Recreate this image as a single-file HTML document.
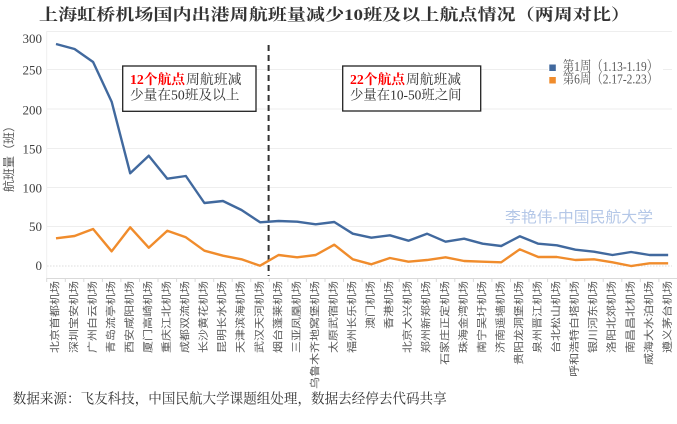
<!DOCTYPE html>
<html><head><meta charset="utf-8"><style>
html,body{margin:0;padding:0;background:#fff;}
svg{display:block;}
.xl{font-family:"Liberation Sans","Noto Sans CJK SC",sans-serif;font-size:12px;fill:#595959;}
.yt{font-family:"Liberation Serif","Noto Serif CJK SC",serif;font-size:13px;fill:#404040;}
</style></head><body>
<svg width="677" height="424" viewBox="0 0 677 424" xmlns="http://www.w3.org/2000/svg">
<rect width="677" height="424" fill="#fff"/>
<text x="39" y="20" textLength="591" lengthAdjust="spacingAndGlyphs" style="font-family:'Liberation Serif','Noto Serif CJK SC',serif;font-weight:bold;font-size:16px;fill:#333">上海虹桥机场国内出港周航班量减少10班及以上航点情况（两周对比）</text>
<g stroke="#eeeeee" stroke-width="1">
<line x1="47" y1="31.5" x2="672" y2="31.5"/>
<line x1="47" y1="69.5" x2="672" y2="69.5"/>
<line x1="47" y1="109" x2="672" y2="109"/>
<line x1="47" y1="148.5" x2="672" y2="148.5"/>
<line x1="47" y1="187.5" x2="672" y2="187.5"/>
<line x1="47" y1="226.5" x2="672" y2="226.5"/>
<line x1="47" y1="266" x2="672" y2="266" stroke="#dddddd" stroke-dasharray="1.5,1.5"/>
<line x1="46.7" y1="31" x2="46.7" y2="278"/>
</g>
<g stroke="#d9d9d9" stroke-width="1">
<line x1="46.7" y1="278.5" x2="677" y2="278.5"/>
<path d="M46.7 278v4M65.3 278v4M83.8 278v4M102.4 278v4M120.9 278v4M139.5 278v4M158 278v4M176.6 278v4M195.1 278v4M213.7 278v4M232.2 278v4M250.8 278v4M269.3 278v4M287.9 278v4M306.4 278v4M325 278v4M343.5 278v4M362.1 278v4M380.6 278v4M399.2 278v4M417.7 278v4M436.3 278v4M454.8 278v4M473.4 278v4M491.9 278v4M510.5 278v4M529 278v4M547.6 278v4M566.1 278v4M584.7 278v4M603.2 278v4M621.8 278v4M640.3 278v4M658.9 278v4"/>
</g>
<g class="yt" text-anchor="end" dominant-baseline="central">
<text x="42" y="38.3">300</text>
<text x="42" y="70">250</text>
<text x="42" y="110">200</text>
<text x="42" y="149">150</text>
<text x="42" y="188">100</text>
<text x="42" y="226.7">50</text>
<text x="42" y="265.5">0</text>
</g>
<text transform="translate(9,156) rotate(-90)" text-anchor="middle" dominant-baseline="central" style="font-family:'Liberation Sans','Noto Sans CJK SC',sans-serif;font-size:12px;fill:#595959">航班量（班）</text>
<text x="505" y="217.3" textLength="148" lengthAdjust="spacingAndGlyphs" dominant-baseline="central" style="font-family:'Liberation Sans','Noto Sans CJK SC',sans-serif;font-size:15px;fill:#b4c7e7">李艳伟-中国民航大学</text>
<line x1="268.6" y1="45" x2="268.6" y2="276" stroke="#333" stroke-width="2" stroke-dasharray="6,4"/>
<polyline fill="none" stroke="#41699e" stroke-width="2.4" stroke-linejoin="round" points="56,44 74.55,49 93.1,62 111.65,101.7 130.2,173.3 148.75,155.7 167.3,178.7 185.85,176 204.4,203 222.95,201 241.5,210 260.05,222.3 278.6,221 297.15,221.7 315.7,224.3 334.25,222 352.8,233.7 371.35,237.7 389.9,235.3 408.45,240.7 427,233.7 445.55,241.7 464.1,238.7 482.65,243.7 501.2,246 519.75,236.3 538.3,243.7 556.85,245.3 575.4,249.7 593.95,251.7 612.5,255 631.05,252 649.6,255 668.15,255"/>
<polyline fill="none" stroke="#f08c2c" stroke-width="2.4" stroke-linejoin="round" points="56,238.3 74.55,236 93.1,229 111.65,251.3 130.2,227.3 148.75,247.7 167.3,230.7 185.85,237.3 204.4,250.7 222.95,255.7 241.5,259.3 260.05,265.7 278.6,255 297.15,257.3 315.7,255 334.25,244.7 352.8,259.3 371.35,264.3 389.9,258 408.45,261.7 427,260 445.55,257.3 464.1,261 482.65,261.7 501.2,262.3 519.75,249.3 538.3,257 556.85,257 575.4,260 593.95,259.3 612.5,262.3 631.05,266 649.6,263.3 668.15,263.3"/>
<rect x="122.7" y="66" width="133.3" height="45.3" fill="#fff" stroke="#222" stroke-width="1.3"/>
<g style="font-family:'Liberation Serif','Noto Serif CJK SC',serif;font-size:13.5px" dominant-baseline="central">
<text x="130" y="79.3" textLength="55" lengthAdjust="spacingAndGlyphs" fill="#ff0000" font-weight="bold">12个航点</text>
<text x="186" y="79.3" textLength="55.5" lengthAdjust="spacingAndGlyphs" fill="#333">周航班减</text>
<text x="130" y="95" textLength="109.5" lengthAdjust="spacingAndGlyphs" fill="#333">少量在50班及以上</text>
</g>
<rect x="342.7" y="66" width="138" height="45" fill="#fff" stroke="#222" stroke-width="1.3"/>
<g style="font-family:'Liberation Serif','Noto Serif CJK SC',serif;font-size:13.5px" dominant-baseline="central">
<text x="350" y="79.3" textLength="55" lengthAdjust="spacingAndGlyphs" fill="#ff0000" font-weight="bold">22个航点</text>
<text x="406" y="79.3" textLength="55" lengthAdjust="spacingAndGlyphs" fill="#333">周航班减</text>
<text x="350" y="95" textLength="111.5" lengthAdjust="spacingAndGlyphs" fill="#333">少量在10-50班之间</text>
</g>
<rect x="548" y="57" width="115" height="30" fill="#fff"/>
<rect x="549.3" y="64.5" width="6.5" height="6.5" fill="#41699e"/>
<rect x="549.3" y="77" width="6.5" height="6.5" fill="#f08c2c"/>
<g style="font-family:'Liberation Serif','Noto Serif CJK SC',serif;font-size:14px;fill:#595959" dominant-baseline="central">
<text x="562.7" y="67.7" textLength="95.5" lengthAdjust="spacingAndGlyphs">第1周（1.13-1.19）</text>
<text x="562.7" y="80.2" textLength="95.5" lengthAdjust="spacingAndGlyphs">第6周（2.17-2.23）</text>
</g>
<g class="xl" text-anchor="end" dominant-baseline="central">
<text transform="translate(56,281) rotate(-90) scale(1,0.85)">北京首都机场</text>
<text transform="translate(74.55,281) rotate(-90) scale(1,0.85)">深圳宝安机场</text>
<text transform="translate(93.1,281) rotate(-90) scale(1,0.85)">广州白云机场</text>
<text transform="translate(111.65,281) rotate(-90) scale(1,0.85)">青岛流亭机场</text>
<text transform="translate(130.2,281) rotate(-90) scale(1,0.85)">西安咸阳机场</text>
<text transform="translate(148.75,281) rotate(-90) scale(1,0.85)">厦门高崎机场</text>
<text transform="translate(167.3,281) rotate(-90) scale(1,0.85)">重庆江北机场</text>
<text transform="translate(185.85,281) rotate(-90) scale(1,0.85)">成都双流机场</text>
<text transform="translate(204.4,281) rotate(-90) scale(1,0.85)">长沙黄花机场</text>
<text transform="translate(222.95,281) rotate(-90) scale(1,0.85)">昆明长水机场</text>
<text transform="translate(241.5,281) rotate(-90) scale(1,0.85)">天津滨海机场</text>
<text transform="translate(260.05,281) rotate(-90) scale(1,0.85)">武汉天河机场</text>
<text transform="translate(278.6,281) rotate(-90) scale(1,0.85)">烟台蓬莱机场</text>
<text transform="translate(297.15,281) rotate(-90) scale(1,0.85)">三亚凤凰机场</text>
<text transform="translate(315.7,281) rotate(-90) scale(1,0.85)">乌鲁木齐地窝堡机场</text>
<text transform="translate(334.25,281) rotate(-90) scale(1,0.85)">太原武宿机场</text>
<text transform="translate(352.8,281) rotate(-90) scale(1,0.85)">福州长乐机场</text>
<text transform="translate(371.35,281) rotate(-90) scale(1,0.85)">澳门机场</text>
<text transform="translate(389.9,281) rotate(-90) scale(1,0.85)">香港机场</text>
<text transform="translate(408.45,281) rotate(-90) scale(1,0.85)">北京大兴机场</text>
<text transform="translate(427,281) rotate(-90) scale(1,0.85)">郑州新郑机场</text>
<text transform="translate(445.55,281) rotate(-90) scale(1,0.85)">石家庄正定机场</text>
<text transform="translate(464.1,281) rotate(-90) scale(1,0.85)">珠海金湾机场</text>
<text transform="translate(482.65,281) rotate(-90) scale(1,0.85)">南宁吴圩机场</text>
<text transform="translate(501.2,281) rotate(-90) scale(1,0.85)">济南遥墙机场</text>
<text transform="translate(519.75,281) rotate(-90) scale(1,0.85)">贵阳龙洞堡机场</text>
<text transform="translate(538.3,281) rotate(-90) scale(1,0.85)">泉州晋江机场</text>
<text transform="translate(556.85,281) rotate(-90) scale(1,0.85)">台北松山机场</text>
<text transform="translate(575.4,281) rotate(-90) scale(1,0.85)">呼和浩特白塔机场</text>
<text transform="translate(593.95,281) rotate(-90) scale(1,0.85)">银川河东机场</text>
<text transform="translate(612.5,281) rotate(-90) scale(1,0.85)">洛阳北郊机场</text>
<text transform="translate(631.05,281) rotate(-90) scale(1,0.85)">南昌昌北机场</text>
<text transform="translate(649.6,281) rotate(-90) scale(1,0.85)">威海大水泊机场</text>
<text transform="translate(668.15,281) rotate(-90) scale(1,0.85)">遵义茅台机场</text>
</g>
<text x="12.7" y="400" textLength="434" lengthAdjust="spacingAndGlyphs" dominant-baseline="central" style="font-family:'Liberation Serif','Noto Serif CJK SC',serif;font-size:14px;fill:#333">数据来源：飞友科技，中国民航大学课题组处理，数据去经停去代码共享</text>
</svg>
</body></html>
